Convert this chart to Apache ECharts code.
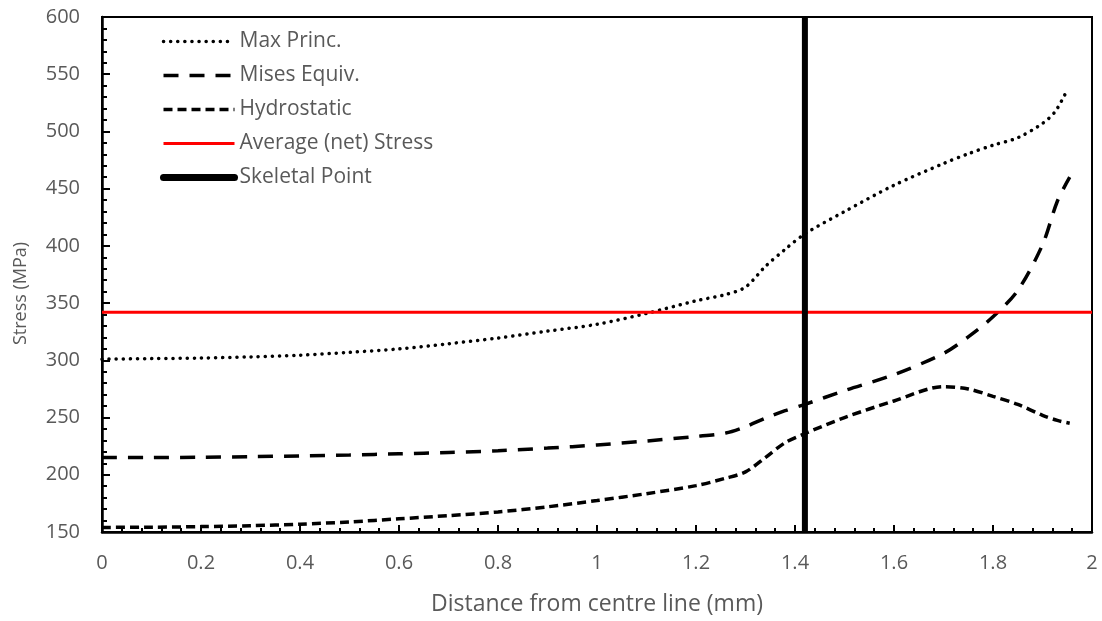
<!DOCTYPE html>
<html>
<head>
<meta charset="utf-8">
<script src="https://cdn.jsdelivr.net/npm/echarts@6/dist/echarts.min.js"></script>
<style>
  html, body { margin: 0; padding: 0; background: #fff; }
  #container { width: 1102px; height: 621px; }
</style>
</head>
<body>
<div id="container"></div>
<script>
// distance from centre line (mm)
var xMax   = [0, 0.1, 0.2, 0.3, 0.4, 0.5, 0.6, 0.7, 0.8, 0.9, 1.0, 1.1, 1.2, 1.26, 1.3, 1.34, 1.38, 1.42, 1.5, 1.6, 1.7, 1.75, 1.8, 1.85, 1.9, 1.925, 1.945];
var maxPrinc = [301, 301.5, 302, 303, 304.5, 307, 310, 314.5, 319.5, 325.5, 331.5, 341, 352, 357.5, 364, 382, 397, 410.5, 430, 453, 472, 480.5, 488, 494.5, 507, 517, 532];

var xOther = [0, 0.1, 0.2, 0.3, 0.4, 0.5, 0.6, 0.7, 0.8, 0.9, 1.0, 1.1, 1.2, 1.26, 1.3, 1.34, 1.38, 1.42, 1.5, 1.6, 1.7, 1.75, 1.8, 1.85, 1.9, 1.93, 1.955];
var misesEquiv = [215, 215, 215.3, 215.8, 216.5, 217.3, 218.3, 219.5, 221, 223.3, 226, 229.5, 233.5, 236.5, 242, 249.5, 256, 261.5, 273.5, 287.5, 306, 320.5, 338, 361, 401, 439, 460];
var hydrostatic = [154, 154.2, 154.7, 155.5, 156.8, 158.8, 161.5, 164.3, 167.5, 172, 177.5, 183.5, 190.5, 197, 202.5, 215, 228, 236, 250, 264.5, 277, 275, 268.5, 261.5, 252, 247.5, 245];

var averageStress = 342;
var skeletalPoint = 1.42;

var names = ['Max Princ.', 'Mises Equiv.', 'Hydrostatic', 'Average (net) Stress', 'Skeletal Point'];

function pairs(xs, ys) {
    return xs.map(function (x, i) { return [x, ys[i]]; });
}

var textColor = '#595959';
var font = 'Open Sans';

var myChart = echarts.init(document.getElementById('container'));

myChart.setOption({
    animation: false,
    backgroundColor: '#fff',
    textStyle: { fontFamily: font },
    grid: {
        left: 102, top: 17, right: 10, bottom: 85,
        show: true, borderColor: '#000', borderWidth: 2
    },
    legend: {
        orient: 'vertical',
        left: 155, top: 26,
        itemWidth: 71, itemHeight: 20, itemGap: 13,
        itemStyle: { opacity: 0 },
        textStyle: { color: textColor, fontSize: 21, fontFamily: font },
        data: [
            { name: names[0], lineStyle: { width: 3.5 } },
            { name: names[1], lineStyle: { width: 3.5 } },
            { name: names[2], lineStyle: { width: 3.5 } },
            { name: names[3], lineStyle: { width: 3 } },
            { name: names[4], lineStyle: { width: 7, cap: 'round' } }
        ]
    },
    xAxis: {
        type: 'value', min: 0, max: 2, interval: 0.2,
        name: 'Distance from centre line (mm)',
        nameLocation: 'middle', nameGap: 61,
        nameTextStyle: { color: textColor, fontSize: 23 },
        axisLine: { lineStyle: { color: '#000', width: 2.5 } },
        axisTick: { inside: true, length: 7, lineStyle: { color: '#000', width: 2 } },
        minorTick: { show: true, splitNumber: 5, length: 4, lineStyle: { color: '#000', width: 2 } },
        splitLine: { show: false },
        axisLabel: { color: textColor, fontSize: 20, margin: 21 }
    },
    yAxis: {
        type: 'value', min: 150, max: 600, interval: 50,
        name: 'Stress (MPa)',
        nameLocation: 'middle', nameGap: 72,
        nameTextStyle: { color: textColor, fontSize: 18, padding: [0, 38, 0, 0] },
        axisLine: { show: true, lineStyle: { color: '#000', width: 2.5 } },
        axisTick: { show: true, inside: true, length: 8, lineStyle: { color: '#000', width: 2 } },
        minorTick: { show: true, splitNumber: 5, length: 5, lineStyle: { color: '#000', width: 2 } },
        splitLine: { show: false },
        axisLabel: { color: textColor, fontSize: 20, margin: 22 }
    },
    series: [
        {
            name: names[0], type: 'line', smooth: 0.3, symbol: 'none',
            data: pairs(xMax, maxPrinc),
            lineStyle: { color: '#000', width: 3.5, type: [0.1, 7], cap: 'round' },
            itemStyle: { color: '#000' }
        },
        {
            name: names[1], type: 'line', smooth: 0.3, symbol: 'none',
            data: pairs(xOther, misesEquiv),
            lineStyle: { color: '#000', width: 3.5, type: [15, 11] },
            itemStyle: { color: '#000' }
        },
        {
            name: names[2], type: 'line', smooth: 0.3, symbol: 'none',
            data: pairs(xOther, hydrostatic),
            lineStyle: { color: '#000', width: 3.5, type: [9, 5] },
            itemStyle: { color: '#000' }
        },
        {
            name: names[3], type: 'line', symbol: 'none',
            data: [[0, averageStress], [2, averageStress]],
            lineStyle: { color: '#ff0000', width: 3 },
            itemStyle: { color: '#ff0000' }
        },
        {
            name: names[4], type: 'line', symbol: 'none',
            data: [[skeletalPoint, 150], [skeletalPoint, 600]],
            lineStyle: { color: '#000', width: 6 },
            itemStyle: { color: '#000' }
        }
    ]
});
</script>
</body>
</html>
